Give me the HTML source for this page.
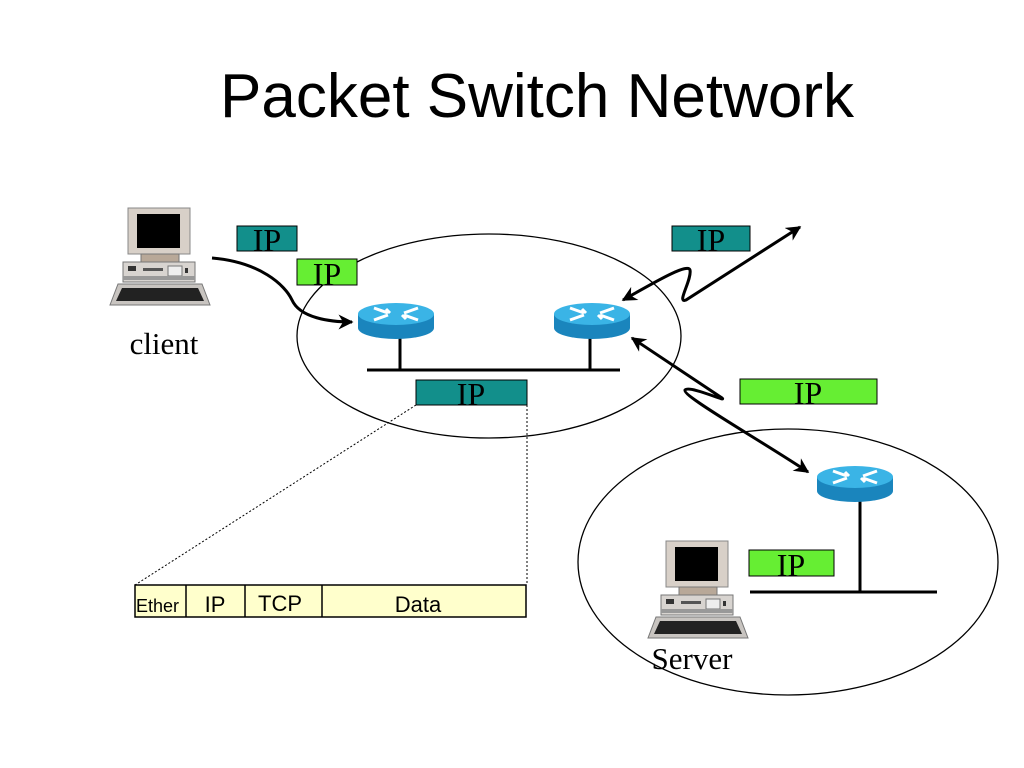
<!DOCTYPE html>
<html><head><meta charset="utf-8"><style>
html,body{margin:0;padding:0;background:#fff;}
svg{display:block;}
</style></head><body>
<svg width="1024" height="768" viewBox="0 0 1024 768" xmlns="http://www.w3.org/2000/svg">
<defs>
<marker id="ah" viewBox="0 0 10 10" refX="9" refY="5" markerWidth="5" markerHeight="5" orient="auto-start-reverse">
<path d="M0,0 L10,5 L0,10 L3,5 z" fill="#000"/></marker>
<g id="pc">
 <rect x="20" y="1" width="62" height="46" fill="#d8d0c8" stroke="#888" stroke-width="1"/>
 <rect x="29" y="7" width="43" height="34" fill="#000"/>
 <rect x="33" y="47" width="38" height="8" fill="#b8a898" stroke="#777"/>
 <rect x="15" y="55" width="72" height="20" fill="#d8d4d0" stroke="#777"/>
 <rect x="20" y="59" width="8" height="5" fill="#333"/>
 <rect x="35" y="61" width="20" height="3" fill="#555"/>
 <rect x="60" y="59" width="14" height="10" fill="#eee" stroke="#777"/>
 <rect x="77" y="61" width="3" height="5" fill="#333"/>
 <rect x="15" y="69" width="72" height="4" fill="#999"/>
 <path d="M10,77 L94,77 L102,98 L2,98 z" fill="#c8c4c0" stroke="#777"/>
 <path d="M14,81 L90,81 L96,94 L8,94 z" fill="#222"/>
</g>
<g id="rt">
 <path d="M-38,0 L-38,14 A38,11 0 0 0 38,14 L38,0 z" fill="#1a85bd"/>
 <ellipse cx="0" cy="0" rx="38" ry="11" fill="#3ab4e6"/>
 <path d="M-22,-6 L-8,-1 M-22,6 L-8,1 M22,-6 L8,-1 M22,6 L8,1 M-10,-5 L-6,-1 M10,5 L6,1" stroke="#fff" stroke-width="3"/>
</g>
</defs>
<text x="537" y="117" font-family="Liberation Sans, sans-serif" font-size="62" text-anchor="middle">Packet Switch Network</text>

<ellipse cx="489" cy="336" rx="192" ry="102" fill="none" stroke="#000" stroke-width="1.3"/>
<ellipse cx="788" cy="562" rx="210" ry="133" fill="none" stroke="#000" stroke-width="1.3"/>

<use href="#pc" x="108" y="207"/>
<use href="#pc" x="646" y="540"/>
<text x="164" y="354" font-family="Liberation Serif, serif" font-size="31" text-anchor="middle">client</text>
<text x="692" y="669" font-family="Liberation Serif, serif" font-size="31" text-anchor="middle">Server</text>

<g stroke="#000" stroke-width="3">
<line x1="400" y1="338" x2="400" y2="370"/>
<line x1="590" y1="338" x2="590" y2="370"/>
<line x1="367" y1="370" x2="620" y2="370"/>
<line x1="860" y1="500" x2="860" y2="592"/>
<line x1="750" y1="592" x2="937" y2="592"/>
</g>
<use href="#rt" x="396" y="314"/>
<use href="#rt" x="592" y="314"/>
<use href="#rt" x="855" y="477"/>

<g font-family="Liberation Serif, serif" font-size="32" text-anchor="middle">
<rect x="237" y="226" width="60" height="25" fill="#128f8b" stroke="#000"/><text x="267" y="251">IP</text>
<rect x="297" y="259" width="60" height="26" fill="#66ee33" stroke="#000"/><text x="327" y="285">IP</text>
<rect x="672" y="226" width="78" height="25" fill="#128f8b" stroke="#000"/><text x="711" y="251">IP</text>
<rect x="416" y="380" width="111" height="25" fill="#128f8b" stroke="#000"/><text x="471" y="405">IP</text>
<rect x="740" y="379" width="137" height="25" fill="#66ee33" stroke="#000"/><text x="808" y="404">IP</text>
<rect x="749" y="550" width="85" height="26" fill="#66ee33" stroke="#000"/><text x="791" y="576">IP</text>
</g>

<g fill="none" stroke="#000" stroke-width="3">
<path d="M212,258 C260,262 285,285 292,300 C300,318 330,322 352,322" marker-end="url(#ah)"/>
<path d="M800,227 L686,300 C676,304 692,280 690,270 C688,262 650,285 623,300" marker-start="url(#ah)" marker-end="url(#ah)"/>
<path d="M632,338 L722,398 C728,403 690,385 685,390 C682,396 760,440 808,472" marker-start="url(#ah)" marker-end="url(#ah)"/>
</g>

<g stroke="#000" stroke-width="1" stroke-dasharray="2,2" fill="none">
<line x1="416" y1="405" x2="135" y2="585"/>
<line x1="527" y1="405" x2="527" y2="585"/>
</g>

<rect x="135" y="585" width="391" height="32" fill="#ffffcc" stroke="#000" stroke-width="1.5"/>
<g stroke="#000" stroke-width="1.5"><line x1="186" y1="585" x2="186" y2="617"/><line x1="245" y1="585" x2="245" y2="617"/><line x1="322" y1="585" x2="322" y2="617"/></g>
<g font-family="Liberation Sans, sans-serif" fill="#000">
<text x="136" y="612" font-size="18">Ether</text>
<text x="215" y="612" font-size="22" text-anchor="middle">IP</text>
<text x="280" y="611" font-size="22" text-anchor="middle">TCP</text>
<text x="418" y="612" font-size="22" text-anchor="middle">Data</text>
</g>
</svg>
</body></html>
